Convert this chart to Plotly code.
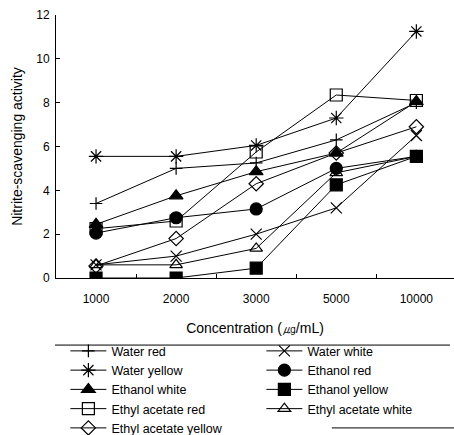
import plotly.graph_objects as go

categories = ["1000", "2000", "3000", "5000", "10000"]

water_red = [3.4, 5.0, 5.25, 6.3, 8.0]
water_white = [0.6, 1.0, 2.0, 3.2, 6.5]
water_yellow = [5.55, 5.55, 6.05, 7.3, 11.25]
ethanol_red = [2.05, 2.75, 3.15, 5.0, 5.55]
ethanol_white = [2.45, 3.75, 4.85, 5.7, 8.05]
ethanol_yellow = [0.0, 0.0, 0.45, 4.25, 5.55]
ethyl_red = [2.25, 2.6, 5.75, 8.35, 8.1]
ethyl_white = [0.6, 0.6, 1.35, 4.8, 5.55]
ethyl_yellow = [0.55, 1.8, 4.3, 5.7, 6.9]

series = [
    ("Water red", water_red, "cross-thin-open", 9),
    ("Water white", water_white, "x-thin-open", 11),
    ("Water yellow", water_yellow, "asterisk-open", 12),
    ("Ethanol red", ethanol_red, "circle", 12),
    ("Ethanol white", ethanol_white, "triangle-up", 12),
    ("Ethanol yellow", ethanol_yellow, "square", 12),
    ("Ethyl acetate red", ethyl_red, "square-open", 12),
    ("Ethyl acetate white", ethyl_white, "triangle-up-open", 11),
    ("Ethyl acetate yellow", ethyl_yellow, "diamond-open", 11),
]

FONT = "Liberation Sans, Arial, sans-serif"

fig = go.Figure()
for name, vals, sym, size in series:
    fig.add_trace(go.Scatter(
        x=categories, y=vals, name=name, mode="lines+markers",
        line=dict(color="black", width=1),
        marker=dict(symbol=sym, size=size, color="black",
                    line=dict(color="black", width=1.2)),
    ))

fig.update_layout(
    width=454, height=435,
    margin=dict(l=56, r=0, t=15, b=157, autoexpand=False),
    paper_bgcolor="white", plot_bgcolor="white",
    font=dict(family=FONT, size=12, color="black"),
    showlegend=True,
    legend=dict(
        orientation="h", xref="container", yref="container",
        x=0.144, y=0.227, xanchor="left", yanchor="top",
        entrywidth=145, itemwidth=36,
        font=dict(family=FONT, size=12.5, color="black"),
        bgcolor="rgba(0,0,0,0)", traceorder="normal",
    ),
    xaxis=dict(
        type="category", range=[-0.5, 4.47],
        showline=True, linecolor="black", linewidth=1,
        ticks="inside", ticklen=4, tickcolor="black", tickson="boundaries",
        showgrid=False, zeroline=False,
        tickfont=dict(size=12), ticklabelstandoff=10,
        title=dict(text="Concentration (㎍/mL)", font=dict(size=14), standoff=17),
    ),
    yaxis=dict(
        range=[0, 12], dtick=2,
        showline=True, linecolor="black", linewidth=1,
        ticks="inside", ticklen=4, tickcolor="black",
        showgrid=False, zeroline=False,
        tickfont=dict(size=12), ticklabelstandoff=3,
        title=dict(text="Nitrite-scavenging activity", font=dict(size=14), standoff=10),
    ),
    shapes=[
        dict(type="line", xref="paper", yref="paper", x0=-0.0025, x1=0.99,
             y0=-0.255, y1=-0.255, line=dict(color="black", width=1)),
        dict(type="line", xref="paper", yref="paper", x0=0.693, x1=1.0,
             y0=-0.570, y1=-0.570, line=dict(color="black", width=1)),
    ],
)

fig.write_html("out.html", config={"displayModeBar": False},
               post_script="document.body.style.margin='0';")
